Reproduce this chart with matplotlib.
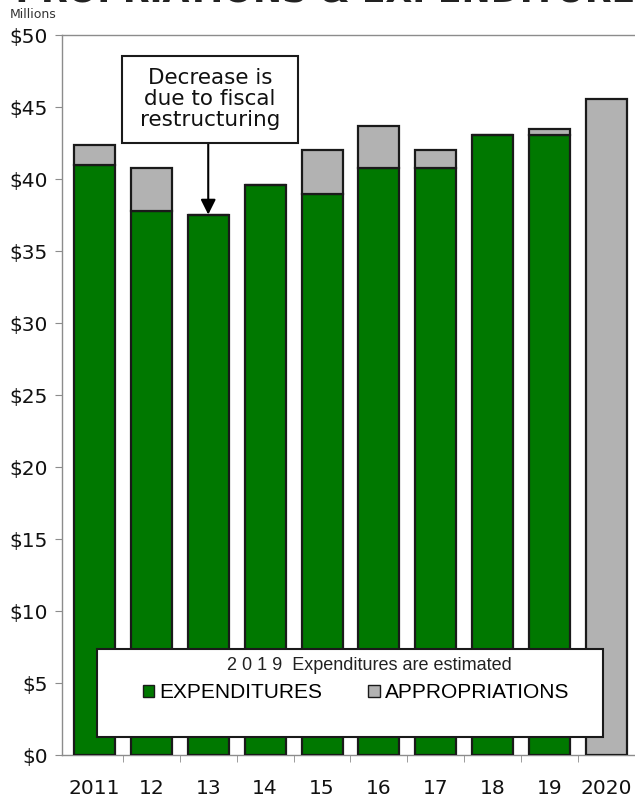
import matplotlib
matplotlib.use("Agg")
import matplotlib.pyplot as plt
from matplotlib.patches import Patch, Rectangle

years = ["2011", "12", "13", "14", "15", "16", "17", "18", "19", "2020"]
expenditures = [41.0, 37.8, 37.5, 39.6, 39.0, 40.8, 40.8, 43.1, 43.1, 0.0]
appropriations = [42.4, 40.8, 37.5, 39.6, 42.0, 43.7, 42.0, 43.1, 43.5, 45.6]
yticks = [0, 5, 10, 15, 20, 25, 30, 35, 40, 45, 50]
ytick_labels = ["$" + str(v) for v in yticks]

GREEN = "#007800"
GRAY = "#b2b2b2"
EDGE = "#1a1a1a"
AXC = "#8c8c8c"
W, H = 635, 799

fig = plt.figure(figsize=(6.35, 7.99), dpi=100)
ax = fig.add_axes([62 / W, 1 - 755.3 / H, 1 - 62 / W, (755.3 - 35.3) / H])

x = list(range(len(years)))
gray_extra = [a - e for a, e in zip(appropriations, expenditures)]
ax.bar(x, expenditures, width=0.72, color=GREEN, edgecolor=EDGE, linewidth=1.6, zorder=3)
ax.bar(x, gray_extra, bottom=expenditures, width=0.72, color=GRAY, edgecolor=EDGE,
       linewidth=1.6, zorder=3)

ax.set_xlim(-0.57, 9.5)
ax.set_ylim(0, 50)
ax.set_yticks(yticks)
ax.set_yticklabels(ytick_labels, fontsize=14.5, family="DejaVu Sans", color="#111111")
ax.set_xticks(x)
ax.set_xticklabels(years, fontsize=14.5, family="DejaVu Sans", color="#111111")
ax.set_xticks([i + 0.5 for i in range(len(years) - 1)], minor=True)
ax.tick_params(axis="x", which="major", length=0, pad=17)
ax.tick_params(axis="x", which="minor", length=5, color=AXC, direction="out")
ax.tick_params(axis="y", length=5, color=AXC, direction="out", pad=5)
for s in ["left", "bottom", "top"]:
    ax.spines[s].set_color(AXC)
    ax.spines[s].set_linewidth(1.0)
ax.spines["right"].set_visible(False)


def fx(px):
    return px / W


def fy(py):
    return 1 - py / H


# annotation box + arrow
fig.patches.append(Rectangle((fx(122), fy(143)), fx(298) - fx(122), fy(56) - fy(143),
                             transform=fig.transFigure, facecolor="white",
                             edgecolor=EDGE, linewidth=1.5, zorder=6))
fig.text(fx(210), fy(99), "Decrease is\ndue to fiscal\nrestructuring",
         ha="center", va="center", fontsize=15.5, color="#111111",
         family="DejaVu Sans", linespacing=1.08, zorder=7)
ax.annotate("", xy=(2, appropriations[2] + 0.05), xycoords="data",
            xytext=(2, fy(143)), textcoords=("data", "figure fraction"),
            arrowprops=dict(arrowstyle="-|>,head_length=0.9,head_width=0.45",
                            color="black", lw=1.5, shrinkA=0, shrinkB=0),
            zorder=6, annotation_clip=False)

# legend box
fig.patches.append(Rectangle((fx(97), fy(737)), fx(603) - fx(97), fy(649) - fy(737),
                             transform=fig.transFigure, facecolor="white",
                             edgecolor=EDGE, linewidth=1.5, zorder=6))
fig.text(fx(369), fy(666), "2 0 1 9  Expenditures are estimated", ha="center",
         va="center", fontsize=13, color="#222222", family="Liberation Sans", zorder=7)
handles = [Patch(facecolor=GREEN, edgecolor=EDGE, label="EXPENDITURES"),
           Patch(facecolor=GRAY, edgecolor=EDGE, label="APPROPRIATIONS")]
leg = fig.legend(handles=handles, loc="center", bbox_to_anchor=(fx(356), fy(693)),
                 ncol=2, frameon=False,
                 prop={"family": "Liberation Sans", "size": 15},
                 handlelength=0.55, handleheight=0.55, handletextpad=0.25,
                 borderpad=0, columnspacing=2.2)
leg.set_zorder(8)

fig.text(10 / W, 1 - 14 / H, "Millions", fontsize=9, color="#333333",
         va="center", ha="left", family="DejaVu Sans")
fig.text(0.49, 1 - 2 / H, "APPROPRIATIONS & EXPENDITURES", fontsize=25,
         fontweight="bold", color="#222222", ha="center", va="baseline",
         family="DejaVu Sans")

fig.savefig("out.png", dpi=100)
